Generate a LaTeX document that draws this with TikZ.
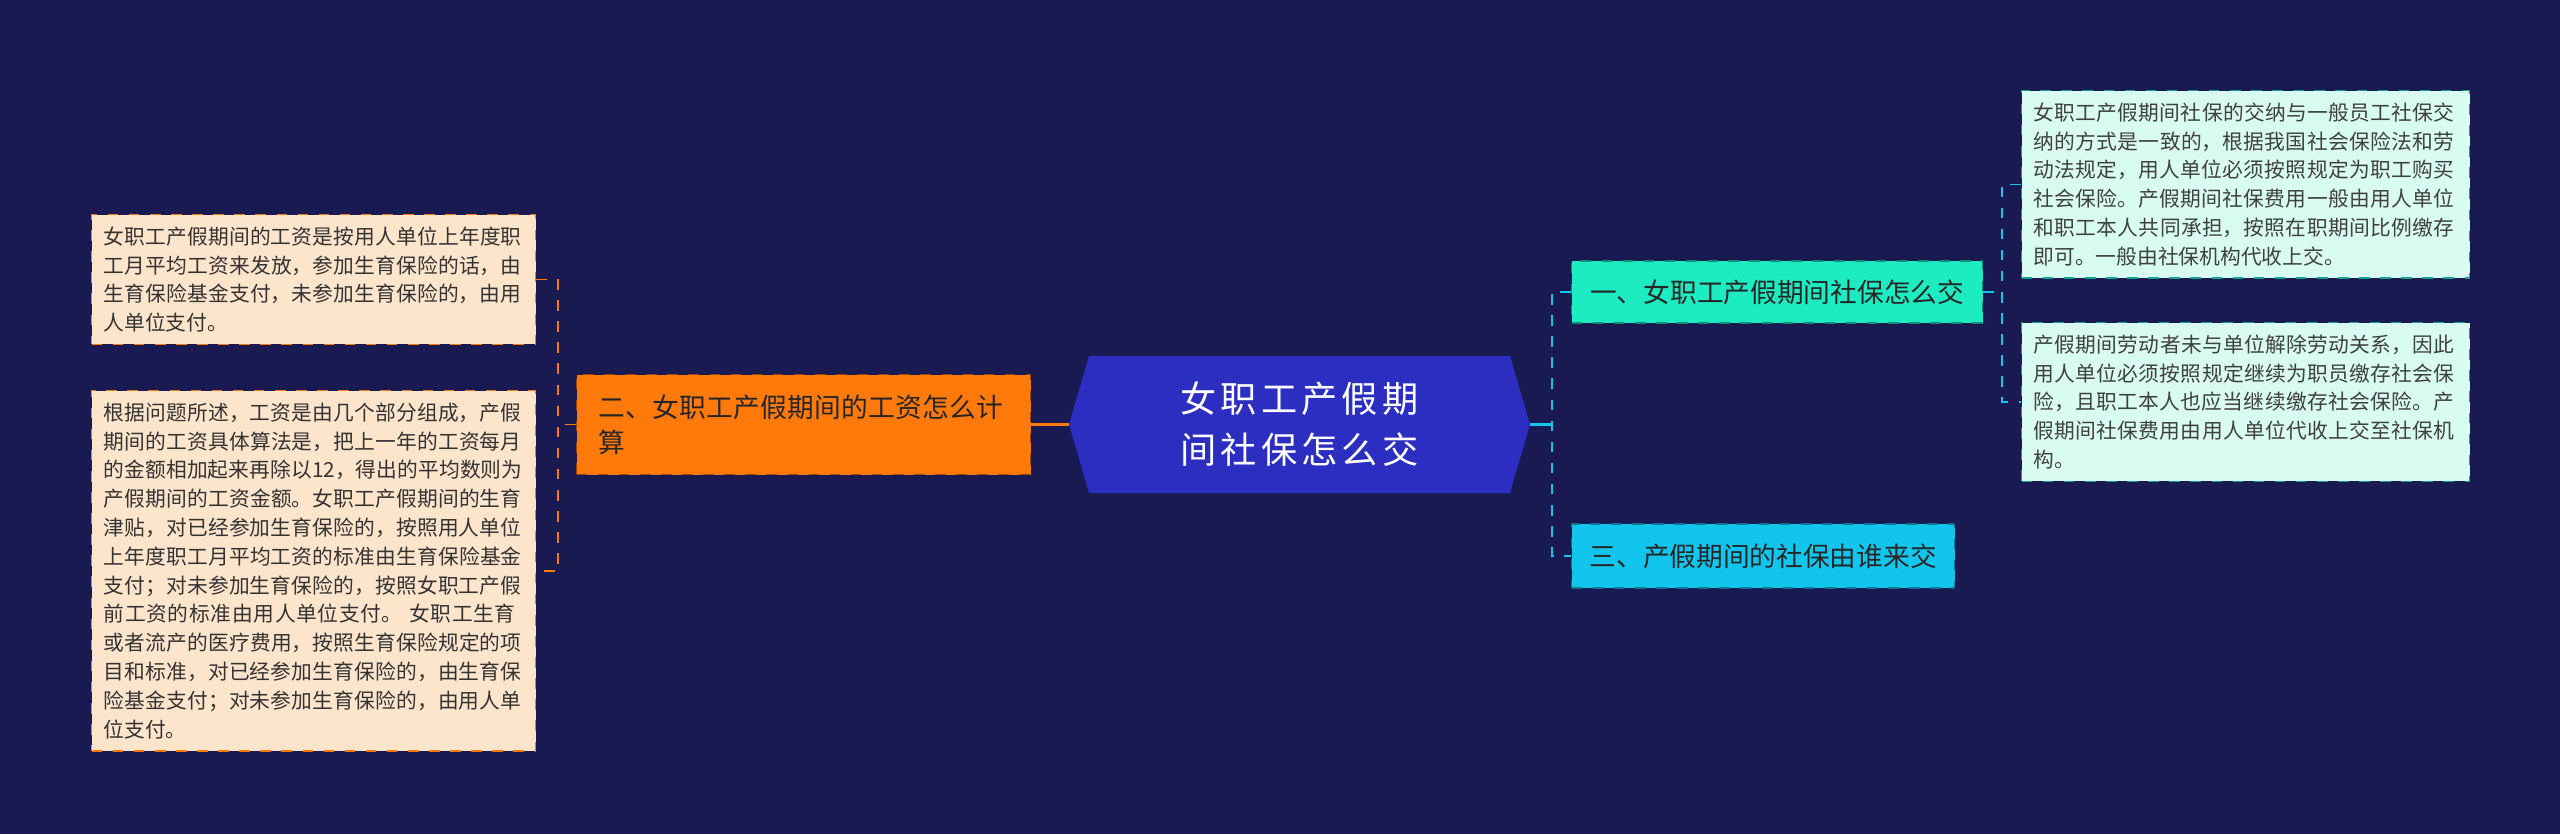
\documentclass[tikz,border=0pt]{standalone}
\usepackage{fontspec}
\setmainfont{Noto Sans CJK SC}
\XeTeXlinebreaklocale "zh"
\XeTeXlinebreakskip=0pt plus 1pt
\usetikzlibrary{positioning}
\definecolor{bgc}{HTML}{1A1A52}
\definecolor{rootc}{HTML}{2B2EC0}
\definecolor{orangec}{HTML}{FF7A0A}
\definecolor{peachc}{HTML}{FDE5CC}
\definecolor{tealc}{HTML}{1DEBC2}
\definecolor{skyc}{HTML}{12C5EC}
\definecolor{mintc}{HTML}{D8FBF2}
\tikzset{
  leafl/.style={draw=orangec,dashed,fill=peachc,text=black!80,font=\fontsize{5.9pt}{8.2pt}\selectfont,
    text width=4.2cm,align=left,inner sep=0.12cm,anchor=north west},
  leafr/.style={draw=tealc!70!black,dashed,fill=mintc,text=black!75,font=\fontsize{5.9pt}{8.2pt}\selectfont,
    text width=4.24cm,align=left,inner sep=0.12cm,anchor=north west},
  branch/.style={dashed,text=black!85,font=\fontsize{7.6pt}{10pt}\selectfont,align=left,anchor=west,inner sep=0.12cm},
  linkl/.style={orangec,dashed,line width=0.5pt},
  linkr/.style={skyc,dashed,line width=0.5pt}
}
\begin{document}
\begin{tikzpicture}
\fill[bgc] (0,0) rectangle (25.6,-8.34);
\useasboundingbox (0,0) rectangle (25.6,-8.34);
% root
\fill[rootc] (10.69,-4.245) -- (10.89,-3.56) -- (15.10,-3.56) -- (15.30,-4.245) -- (15.10,-4.93) -- (10.89,-4.93) -- cycle;
\node[text=white,font=\fontsize{10.3pt}{14.5pt}\selectfont,align=center,text width=4.1cm] (root) at (12.995,-4.245) {女职工产假期间社保怎么交};
\coordinate (rootl) at (10.69,-4.245);
\coordinate (rootr) at (15.30,-4.245);
% left branch
\node[branch,draw=orangec!60!black,fill=orangec,minimum height=1.0cm,minimum width=4.54cm,text width=4.1cm] (wage) at (5.76,-4.245) {二、女职工产假期间的工资怎么计算};
\node[leafl] (wa) at (0.91,-2.14) {女职工产假期间的工资是按用人单位上年度职工月平均工资来发放，参加生育保险的话，由生育保险基金支付，未参加生育保险的，由用人单位支付。};
\node[leafl] (wb) at (0.91,-3.90) {根据问题所述，工资是由几个部分组成，产假期间的工资具体算法是，把上一年的工资每月的金额相加起来再除以12，得出的平均数则为产假期间的工资金额。女职工产假期间的生育津贴，对已经参加生育保险的，按照用人单位上年度职工月平均工资的标准由生育保险基金支付；对未参加生育保险的，按照女职工产假前工资的标准由用人单位支付。 女职工生育或者流产的医疗费用，按照生育保险规定的项目和标准，对已经参加生育保险的，由生育保险基金支付；对未参加生育保险的，由用人单位支付。};
% right branches
\node[branch,draw=tealc!60!black,fill=tealc,minimum height=0.62cm,minimum width=4.11cm] (pay) at (15.71,-2.92) {一、女职工产假期间社保怎么交};
\node[branch,draw=skyc!60!black,fill=skyc,minimum height=0.64cm,minimum width=3.83cm] (who) at (15.71,-5.56) {三、产假期间的社保由谁来交};
\node[leafr] (pa) at (20.21,-0.90) {女职工产假期间社保的交纳与一般员工社保交纳的方式是一致的，根据我国社会保险法和劳动法规定，用人单位必须按照规定为职工购买社会保险。产假期间社保费用一般由用人单位和职工本人共同承担，按照在职期间比例缴存即可。一般由社保机构代收上交。};
\node[leafr] (pb) at (20.21,-3.22) {产假期间劳动者未与单位解除劳动关系，因此用人单位必须按照规定继续为职员缴存社会保险，且职工本人也应当继续缴存社会保险。产假期间社保费用由用人单位代收上交至社保机构。};
% connectors
\draw[orangec,line width=0.6pt] (rootl) -- (wage.east);
\coordinate (jl) at (5.58,-4.245);
\draw[linkl] (wage.west) -- (jl);
\draw[linkl] (wa.east) -| (jl) |- (wb.east);
\coordinate (jr) at (15.52,-4.245);
\draw[skyc,line width=0.6pt] (rootr) -- (jr);
\draw[linkr] (pay.west) -| (jr) |- (who.west);
\coordinate (jp) at (20.02,-2.92);
\draw[linkr] (pay.east) -- (jp);
\draw[linkr] (pa.west) -| (jp) |- (pb.west);
\end{tikzpicture}
\end{document}
